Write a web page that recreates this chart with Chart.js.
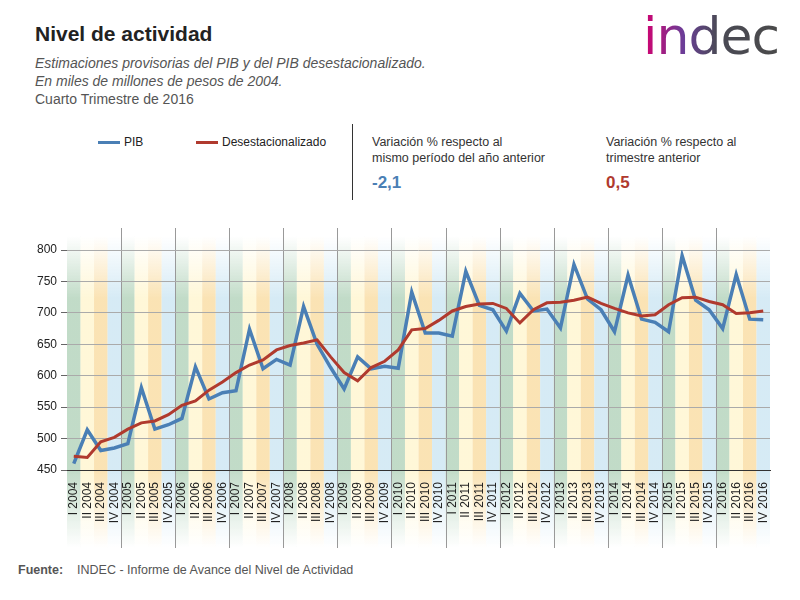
<!DOCTYPE html>
<html lang="es">
<head>
<meta charset="UTF-8">
<title>Nivel de actividad</title>
<script src="https://cdn.jsdelivr.net/npm/chart.js"></script>
<style>
    body { margin: 0; width: 800px; height: 600px; background: #fff; font-family: 'Liberation Sans', Arial, sans-serif; position: relative; overflow: hidden; }
    .abs { position: absolute; }
    h1 { position: absolute; left: 35px; top: 22px; margin: 0; font-size: 21px; font-weight: bold; color: #222; }
    .sub { left: 35px; top: 54px; font-size: 14px; color: #555; line-height: 18px; }
    .logo { left: 643px; top: 6px; font-size: 52px; font-family: 'DejaVu Sans', sans-serif; letter-spacing: -1px;
        background: linear-gradient(90deg, #d4006f 0%, #6a3e98 30%, #4a4a55 55%, #4a4a4a 100%);
        -webkit-background-clip: text; background-clip: text; color: transparent; }
    .leg { top: 135px; font-size: 12px; color: #222; }
    .leg span { display: inline-block; width: 22px; height: 3px; vertical-align: middle; margin-right: 4px; }
    .var { font-size: 12.5px; color: #333; line-height: 16px; }
    .num { font-size: 17px; font-weight: bold; }
    #wrap { position: absolute; left: 0; top: 228px; width: 800px; height: 322px; }
</style>
</head>
<body>
<h1>Nivel de actividad</h1>
<div class="abs sub"><i>Estimaciones provisorias del PIB y del PIB desestacionalizado.<br>En miles de millones de pesos de 2004.</i><br>Cuarto Trimestre de 2016</div>
<div class="abs logo">indec</div>
<div class="abs leg" style="left:98px"><span style="background:#4a7fb5"></span>PIB</div>
<div class="abs leg" style="left:196px"><span style="background:#b03a2e"></span>Desestacionalizado</div>
<div class="abs" style="left:352px;top:124px;width:1px;height:76px;background:#333"></div>
<div class="abs var" style="left:372px;top:134px">Variación % respecto al<br>mismo período del año anterior</div>
<div class="abs num" style="left:372px;top:173px;color:#4a7fb5">-2,1</div>
<div class="abs var" style="left:606px;top:134px">Variación % respecto al<br>trimestre anterior</div>
<div class="abs num" style="left:606px;top:173px;color:#b03a2e">0,5</div>
<div id="wrap"><canvas id="c"></canvas></div>
<div class="abs" style="left:18px;top:563px;font-size:12.5px;color:#555"><b>Fuente:</b>&nbsp;&nbsp;&nbsp; INDEC - Informe de Avance del Nivel de Actividad</div>
<script>
const years = [2004, 2005, 2006, 2007, 2008, 2009, 2010, 2011, 2012, 2013, 2014, 2015, 2016];
const quarters = ['I', 'II', 'III', 'IV'];
const labels = [];
years.forEach(y => quarters.forEach(q => labels.push(q + ' ' + y)));

const pib = [
    460, 514, 481, 485,
    492, 581, 515, 522,
    532, 614, 563, 573,
    576, 674, 611, 626,
    617, 710, 650, 613,
    579, 630, 611, 615,
    612, 733, 668, 668,
    663, 766, 712, 705,
    671, 731, 703, 706,
    676, 777, 722, 705,
    670, 760, 690, 685,
    670, 791, 720, 705,
    675, 761, 690, 689
];
const desest = [
    472, 470, 495, 502,
    515, 525, 528, 538,
    553, 560, 577, 590,
    605, 617, 625, 641,
    648, 652, 657, 630,
    605, 592, 613, 623,
    641, 673, 675, 688,
    703, 710, 714, 715,
    707, 684, 705, 716,
    717, 720, 725, 715,
    707, 700, 695, 697,
    713, 724, 725, 718,
    713, 699, 700, 703
];
const stripeColors = ['160,200,170', '255,243,195', '248,212,140', '192,224,240'];

const stripes = {
    id: 'stripes',
    beforeDraw(chart) {
        const { ctx, scales: { x } } = chart;
        const top = 8, bottom = chart.height - 2;
        const w = x.getPixelForValue(1) - x.getPixelForValue(0);
        labels.forEach((l, i) => {
            const c = stripeColors[i % 4];
            const g = ctx.createLinearGradient(0, top, 0, bottom);
            g.addColorStop(0, 'rgba(' + c + ',0)');
            g.addColorStop(0.2, 'rgba(' + c + ',0.65)');
            g.addColorStop(0.75, 'rgba(' + c + ',0.65)');
            g.addColorStop(1, 'rgba(' + c + ',0)');
            ctx.fillStyle = g;
            const px = x.getPixelForValue(i) - w / 2;
            ctx.fillRect(px, top, w, bottom - top);
        });
        ctx.save();
        ctx.strokeStyle = '#999';
        ctx.lineWidth = 1;
        for (let i = 4; i < labels.length; i += 4) {
            const px = Math.round(x.getPixelForValue(i) - w / 2) + 0.5;
            ctx.beginPath(); ctx.moveTo(px, 0); ctx.lineTo(px, bottom); ctx.stroke();
        }
        ctx.restore();
    }
};

new Chart(document.getElementById('c'), {
    type: 'line',
    data: {
        labels: labels,
        datasets: [
            { label: 'Desestacionalizado', data: desest, borderColor: '#b03a2e', borderWidth: 3, pointRadius: 0, tension: 0 },
            { label: 'PIB', data: pib, borderColor: '#4a7fb5', borderWidth: 3.5, pointRadius: 0, tension: 0 }
        ]
    },
    plugins: [stripes],
    options: {
        responsive: true,
        maintainAspectRatio: false,
        animation: false,
        layout: { padding: { top: 22, right: 30, left: 0, bottom: 0 } },
        plugins: { legend: { display: false }, tooltip: { enabled: false } },
        scales: {
            x: {
                offset: true,
                grid: { display: false },
                border: { color: '#333' },
                afterFit(s) { s.height = 80; },
                ticks: { color: '#222', font: { size: 12, family: 'Liberation Sans' }, maxRotation: 90, minRotation: 90, autoSkip: false, padding: 4 }
            },
            y: {
                min: 450, max: 800,
                afterFit(s) { s.width = 67; },
                border: { display: false },
                grid: { color: '#aaa', borderDash: [1, 2], drawTicks: true, tickLength: 6, tickColor: '#666' },
                ticks: { stepSize: 50, color: '#222', font: { size: 12, family: 'Liberation Sans' }, padding: 4 }
            }
        }
    }
});
</script>
</body>
</html>
